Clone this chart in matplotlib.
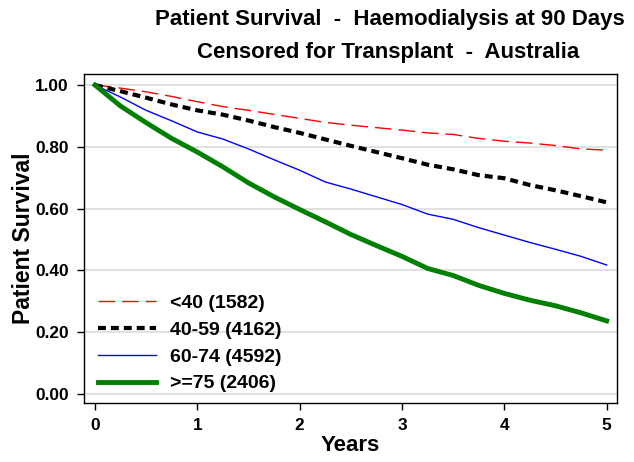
import numpy as np
import matplotlib.pyplot as plt

# Years since day 90
years = [0, 0.25, 0.5, 0.75, 1, 1.25, 1.5, 1.75, 2, 2.25, 2.5,
         2.75, 3, 3.25, 3.5, 3.75, 4, 4.25, 4.5, 4.75, 5]

# Survival by age group
surv_lt40 = [1.0, 0.99, 0.978, 0.963, 0.946, 0.93, 0.918, 0.905, 0.892, 0.879, 0.87,
             0.862, 0.854, 0.845, 0.84, 0.827, 0.818, 0.812, 0.804, 0.793, 0.789]
surv_40_59 = [1.0, 0.98, 0.959, 0.937, 0.918, 0.904, 0.885, 0.864, 0.845, 0.824, 0.803,
              0.783, 0.763, 0.742, 0.727, 0.708, 0.698, 0.676, 0.659, 0.64, 0.62]
surv_60_74 = [1.0, 0.961, 0.918, 0.884, 0.848, 0.825, 0.793, 0.758, 0.724, 0.686, 0.663,
              0.638, 0.613, 0.582, 0.565, 0.538, 0.514, 0.49, 0.468, 0.445, 0.417]
surv_ge75 = [1.0, 0.932, 0.878, 0.827, 0.783, 0.735, 0.683, 0.638, 0.597, 0.557, 0.516,
             0.48, 0.445, 0.406, 0.383, 0.351, 0.325, 0.303, 0.285, 0.262, 0.236]

labels = ["<40 (1582)", "40-59 (4162)", "60-74 (4592)", ">=75 (2406)"]
yticks = [0.0, 0.2, 0.4, 0.6, 0.8, 1.0]
xticks = [0, 1, 2, 3, 4, 5]

plt.rcParams['font.family'] = ['Liberation Sans', 'DejaVu Sans']

fig = plt.figure(figsize=(6.34, 4.62), dpi=100)
ax = fig.add_axes([0.1325, 0.1277, 0.8405, 0.7123])

ax.plot(years, surv_lt40, color='red', lw=1.0, dashes=(12, 5), label=labels[0])
ax.plot(years, surv_40_59, color='black', lw=3.0, dashes=(1.9, 1.2), label=labels[1])
ax.plot(years, surv_60_74, color='blue', lw=1.0, label=labels[2])
ax.plot(years, surv_ge75, color='green', lw=3.5, label=labels[3])

ax.set_xlim(-0.107, 5.1)
ax.set_ylim(-0.03, 1.036)
ax.set_xticks(xticks)
ax.set_xticklabels([str(x) for x in xticks])
ax.set_yticks(yticks)
ax.set_yticklabels([f"{v:.2f}" for v in yticks])
ax.grid(axis='y', color='#dcdcdc', lw=1.2)
ax.set_axisbelow(True)
ax.tick_params(length=5, width=1, labelsize=12.4, pad=6)
for lab in ax.get_xticklabels() + ax.get_yticklabels():
    lab.set_fontweight('bold')
for s in ax.spines.values():
    s.set_linewidth(1.0)

ax.set_xlabel("Years", fontsize=16, fontweight='bold', labelpad=1)
ax.set_ylabel("Patient Survival", fontsize=16.5, fontweight='bold', labelpad=0)

fig.text(0.615, 0.98, "Patient Survival  -  Haemodialysis at 90 Days",
         ha='center', va='top', fontsize=16, fontweight='bold')
fig.text(0.612, 0.91, "Censored for Transplant  -  Australia",
         ha='center', va='top', fontsize=16, fontweight='bold')

leg = ax.legend(loc='lower left', bbox_to_anchor=(0.0, -0.009), frameon=False,
                fontsize=14, handlelength=3.0, labelspacing=0.47,
                borderaxespad=0.3, handletextpad=0.7)
for t in leg.get_texts():
    t.set_fontweight('bold')

fig.savefig('out.png', dpi=100)
